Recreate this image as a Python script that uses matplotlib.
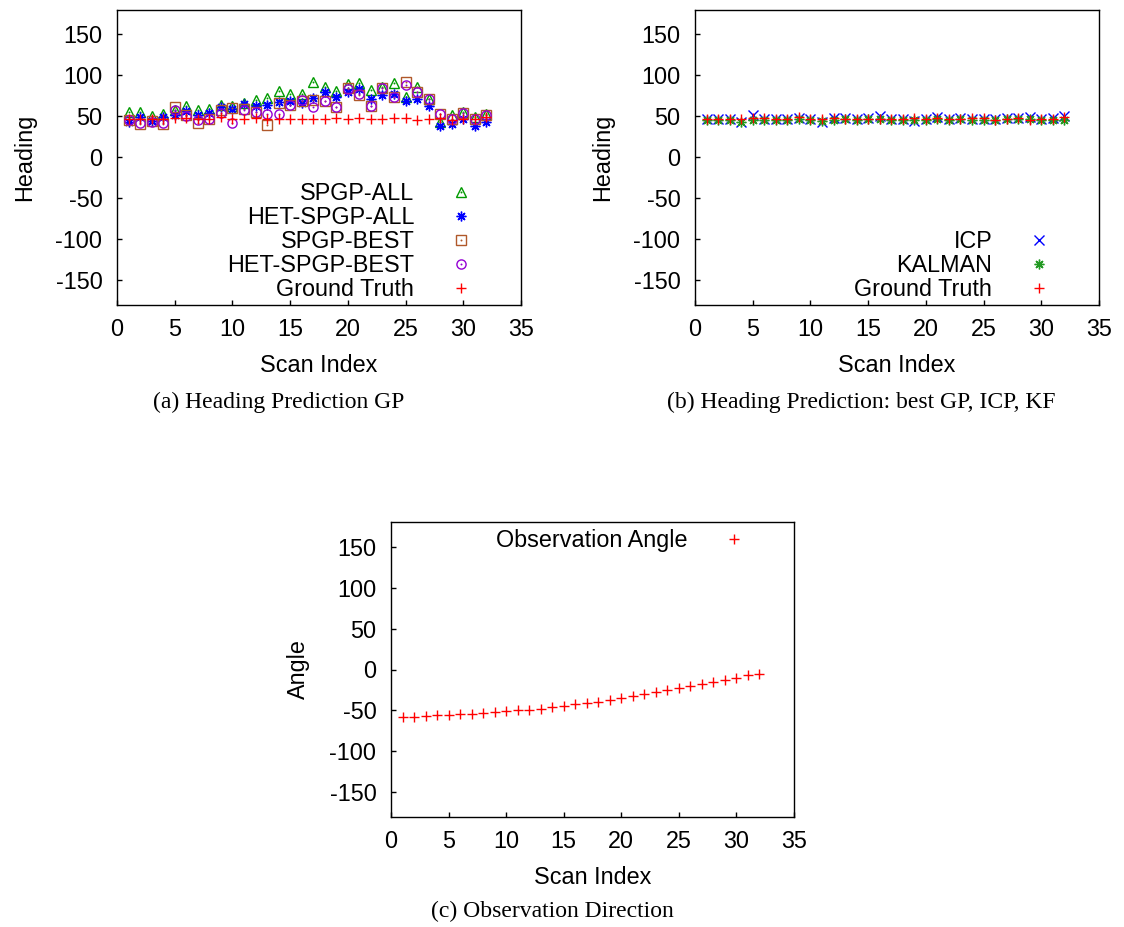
import matplotlib
matplotlib.use('Agg')
import matplotlib.pyplot as plt
from matplotlib.legend_handler import HandlerTuple

# ---------------- data ----------------
scan_index = list(range(1, 33))

ground_truth = [46, 46, 46, 47, 48, 48, 46, 47, 49, 47, 47, 48, 46, 46, 47, 47,
                47, 47, 48, 47, 48, 47, 47, 48, 48, 45, 47, 48, 45, 47, 47, 49]

spgp_all = [55, 55, 50, 53, 58, 63, 57, 59, 64, 63, 66, 70, 72.5, 80.5, 77, 76.5,
            92, 85, 81, 89, 91, 82, 85, 91, 74, 85, 71, 43, 51, 55, 49, 52.5]

het_spgp_all = [43, 48.5, 44, 48.5, 51, 56, 51, 54, 61, 59, 65, 62, 64, 67, 68, 66,
                72.5, 79.5, 73, 79, 83, 71, 76, 76.5, 68.5, 71, 62, 38, 40, 46, 38, 43]

spgp_best = [45, 40, 44, 41, 61.5, 52, 42, 47, 58, 60, 59, 55, 39, 66, 64, 68,
             70, 68, 61, 84, 76, 62, 84, 73, 92, 79, 71, 52.5, 46.5, 54, 47, 52]

het_spgp_best = [45, 42, 43, 42, 58, 50, 45, 47, 54, 42, 57.5, 55, 53, 53, 63.5, 70,
                 61.5, 68, 61.5, 83, 76.5, 62, 84, 74, 88, 79, 71, 52.5, 46.5, 54, 46, 52]

icp = [46, 46, 46, 43, 52, 46, 46, 46, 48, 46, 43, 48, 48, 46, 48, 50,
       46, 46, 44, 47, 48.5, 46, 48, 46, 46, 46, 48, 48, 49.5, 46, 48, 50]

kalman = [45, 45, 45, 43, 45, 45, 45, 45, 46, 45, 44, 45, 46, 45, 46, 46,
          45, 45, 45, 45, 46, 45, 46, 45, 45, 45, 46, 46, 46, 45, 45, 45]

observation_angle = [-58, -58, -57, -56, -55, -54.5, -53.7, -53, -52, -51, -50, -49,
                     -47.6, -46, -44, -42.7, -41, -39.4, -37.4, -35, -32.5, -30,
                     -27.6, -25.6, -23, -20.7, -18, -15, -12.6, -10, -7.3, -4.9]

x_ticks = [0, 5, 10, 15, 20, 25, 30, 35]
y_ticks = [-150, -100, -50, 0, 50, 100, 150]

legend_a = ['SPGP-ALL', 'HET-SPGP-ALL', 'SPGP-BEST', 'HET-SPGP-BEST', 'Ground Truth']
legend_b = ['ICP', 'KALMAN', 'Ground Truth']
legend_c = ['Observation Angle']

captions = ['(a) Heading Prediction GP',
            '(b) Heading Prediction: best GP, ICP, KF',
            '(c) Observation Direction']

# ---------------- style ----------------
plt.rcParams['axes.unicode_minus'] = False
plt.rcParams['font.family'] = ['Liberation Sans', 'DejaVu Sans']
FS = 16.8
MEW = 1.0

C_GREEN = '#009a00'
C_BLUE = '#0000ff'
C_SIENNA = '#b0582a'
C_VIOLET = '#9400d3'
C_RED = '#ff0000'
C_KALMAN = '#229922'

W, H = 1124, 927
fig = plt.figure(figsize=(W / 100, H / 100), dpi=100)


def add_axes(l, r, t, b):
    return fig.add_axes([l / W, 1 - b / H, (r - l) / W, (b - t) / H])


def style(ax, ylabel):
    ax.set_xlim(0, 35)
    ax.set_ylim(-180, 180)
    ax.set_xticks(x_ticks)
    ax.set_yticks(y_ticks)
    ax.tick_params(direction='in', length=3.6, width=1.0, labelsize=FS,
                   top=False, right=False, colors='black')
    ax.tick_params(axis='x', pad=9)
    ax.tick_params(axis='y', pad=10.5)
    for s in ax.spines.values():
        s.set_linewidth(1.0)
        s.set_color('black')
    ax.set_xlabel('Scan Index', fontsize=FS, labelpad=9.5)
    ax.set_ylabel(ylabel, fontsize=FS, labelpad=14)


def dotted(ax, x, y, marker, color, ms):
    h1, = ax.plot(x, y, ls='none', marker=marker, ms=ms, mfc='none',
                  mec=color, mew=MEW)
    h2, = ax.plot(x, y, ls='none', marker='o', ms=1.4, mfc=color,
                  mec=color, mew=0)
    return (h1, h2)


def simple(ax, x, y, marker, color, ms):
    h, = ax.plot(x, y, ls='none', marker=marker, ms=ms, mfc='none',
                 mec=color, mew=MEW)
    return h


def legend(ax, handles, labels, loc, anchor):
    ax.legend(handles, labels, loc=loc, bbox_to_anchor=anchor,
              markerfirst=False, frameon=False, fontsize=FS, borderpad=0,
              borderaxespad=0, handlelength=2, handletextpad=1.0,
              labelspacing=0.045, numpoints=1,
              handler_map={tuple: HandlerTuple(ndivide=1)})


ASTER = (8, 2, 0)

# ---------------- panel (a) ----------------
ax_a = add_axes(117, 521, 9.5, 305)
ha1 = dotted(ax_a, scan_index, spgp_all, '^', C_GREEN, 6.6)
ha2 = simple(ax_a, scan_index, het_spgp_all, ASTER, C_BLUE, 7.0)
ha3 = dotted(ax_a, scan_index, spgp_best, 's', C_SIENNA, 6.6)
ha4 = dotted(ax_a, scan_index, het_spgp_best, 'o', C_VIOLET, 6.6)
ha5 = simple(ax_a, scan_index, ground_truth, '+', C_RED, 7.0)
style(ax_a, 'Heading')
legend(ax_a, [ha1, ha2, ha3, ha4, ha5], legend_a, 'lower right', (0.909, 0.0135))

# ---------------- panel (b) ----------------
ax_b = add_axes(695, 1099, 9.5, 305)
hb1 = simple(ax_b, scan_index, icp, 'x', C_BLUE, 6.6)
hb2 = simple(ax_b, scan_index, kalman, ASTER, C_KALMAN, 7.0)
hb3 = simple(ax_b, scan_index, ground_truth, '+', C_RED, 7.0)
style(ax_b, 'Heading')
legend(ax_b, [hb1, hb2, hb3], legend_b, 'lower right', (0.909, 0.0135))

# ---------------- panel (c) ----------------
ax_c = add_axes(391, 794, 522, 817)
hc1 = simple(ax_c, scan_index, observation_angle, '+', C_RED, 7.0)
style(ax_c, 'Angle')
legend(ax_c, [hc1], legend_c, 'upper right', (0.909, 0.975))

# ---------------- captions ----------------
cap_kw = dict(ha='center', va='baseline', fontsize=17,
              family=['Liberation Serif', 'DejaVu Serif'])
fig.text(279 / W, 1 - 408 / H, captions[0], **cap_kw)
fig.text(861 / W, 1 - 408 / H, captions[1], **cap_kw)
fig.text(552 / W, 1 - 917 / H, captions[2], **cap_kw)

fig.savefig('out.png', dpi=100, facecolor='white')
